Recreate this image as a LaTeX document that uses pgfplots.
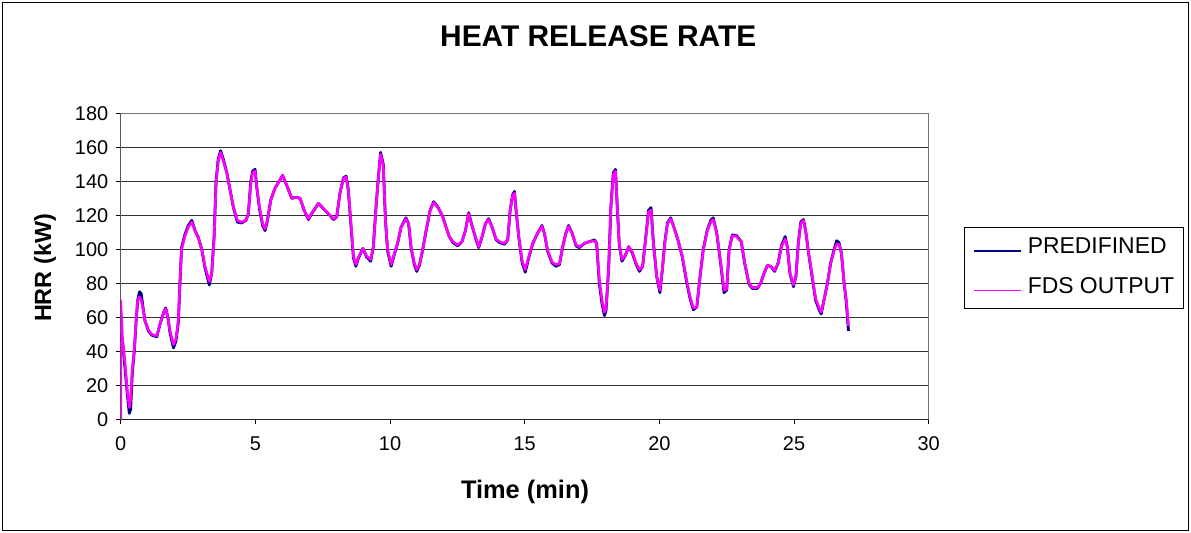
\documentclass[border=0pt]{standalone}
\usepackage{fontspec}
\setmainfont{Liberation Sans}
\usepackage{pgfplots}
\pgfplotsset{compat=1.18}
\definecolor{navyc}{HTML}{000080}
\definecolor{magc}{HTML}{FF00FF}
\begin{document}
\begin{tikzpicture}
\useasboundingbox (0,0) rectangle (1191bp,533bp);
\draw[line width=1bp] (2.5bp,2.5bp) rectangle (1188.5bp,530.5bp);
\begin{axis}[
  at={(120.7bp,113.7bp)}, anchor=south west,
  scale only axis, width=808bp, height=306bp,
  xmin=0, xmax=30, ymin=0, ymax=180,
  xtick={0,5,...,30}, ytick={0,20,...,180},
  tick align=outside, major tick length=5bp,
  tick style={black, line width=1bp},
  xtick pos=bottom, ytick pos=left,
  ymajorgrids, grid style={black!80, line width=0.9bp},
  axis line style={black!55, line width=1bp},
  /pgf/number format/assume math mode=true,
  ticklabel style={font=\fontsize{20}{24}\selectfont},
  xticklabel style={yshift=-9bp},
  yticklabel style={xshift=-4bp},
  title={HEAT RELEASE RATE},
  title style={font=\bfseries\fontsize{30}{34}\selectfont, at={(axis description cs:0.591,1.232)}, anchor=center},
  xlabel={Time (min)},
  xlabel style={font=\bfseries\fontsize{25.5}{29}\selectfont, at={(axis description cs:0.5004,-0.2366)}, anchor=center},
  ylabel={HRR (kW)},
  ylabel style={font=\bfseries\fontsize{23.5}{27}\selectfont, at={(axis description cs:-0.0937,0.4944)}, anchor=center, rotate=0},
  legend cell align=left,
  legend image code/.code={\draw[#1, line width=1.3bp] (0bp,-3bp) -- (47bp,-3bp);},
  legend style={at={(axis description cs:1.0437,0.6284)}, anchor=north west,
    draw=black, line width=1bp, fill=white,
    font=\fontsize{23}{27}\selectfont,
    inner xsep=9bp, inner ysep=10bp, row sep=19bp, column sep=6bp,
    nodes={inner sep=0bp, text height=15.8bp, text depth=5bp}},
]
\addplot[navyc, line width=2.8bp, line join=round] coordinates {
(0,50)(0.07,45)(0.16,30)(0.25,14)(0.32,3.5)(0.37,6)(0.43,27)(0.51,41)(0.57,57)(0.63,70)(0.7,75)(0.76,74)(0.82,67)(0.9,58)
(1.03,52)(1.15,49.5)(1.34,48.5)(1.46,56)(1.6,63)(1.67,65.5)(1.75,60)(1.83,51)(1.96,42)(2.05,46)(2.14,57)(2.2,80)(2.26,101)
(2.39,109)(2.51,114)(2.64,117)(2.76,111)(2.88,107)(3.01,100)(3.13,89)(3.29,79)(3.38,86)(3.47,108)(3.54,140)(3.62,153)
(3.71,158)(3.81,153)(3.94,145)(4.06,135)(4.18,125)(4.33,116)(4.49,115.5)(4.65,117)(4.74,121)(4.83,140)(4.9,146)(4.99,147)
(5.05,137)(5.15,124)(5.27,114)(5.36,111)(5.45,117)(5.57,129)(5.73,136)(5.92,141)(6.01,143.5)(6.1,140)(6.23,135)(6.35,130)
(6.51,130.5)(6.66,130)(6.81,123)(6.97,117.5)(7.09,121)(7.22,124)(7.34,127)(7.52,124)(7.71,121)(7.9,117.5)(8.02,119)
(8.14,133)(8.27,142)(8.37,143)(8.45,135)(8.54,116)(8.64,95)(8.73,90)(8.82,94.5)(8.99,100.5)(9.13,95.5)(9.28,93)(9.38,101.5)
(9.48,125)(9.57,143)(9.65,157)(9.75,150)(9.83,117)(9.91,99)(10.04,90)(10.16,97)(10.28,103.5)(10.41,113)(10.59,118.5)
(10.69,115)(10.78,101)(10.9,91)(10.99,87)(11.09,90.5)(11.21,99.5)(11.34,111)(11.49,123)(11.62,128)(11.77,125)(11.96,119)
(12.08,113)(12.2,107.5)(12.33,104)(12.51,102)(12.67,104.5)(12.8,111)(12.92,121.5)(13.04,114)(13.17,107)(13.29,101)
(13.42,107.5)(13.54,115)(13.66,118)(13.79,113)(13.94,105.5)(14.06,104)(14.25,103)(14.37,105.5)(14.46,123)(14.55,132)
(14.62,134)(14.68,123)(14.78,107)(14.9,92.5)(15.02,86.5)(15.15,95)(15.3,103.5)(15.48,109.5)(15.64,114)(15.73,109.5)
(15.85,99)(16.01,92)(16.16,90)(16.29,91)(16.41,101.5)(16.53,109.5)(16.63,114)(16.76,109.5)(16.91,102)(17.03,101)
(17.22,103.5)(17.4,104.5)(17.59,105.5)(17.67,103.5)(17.77,80)(17.87,68)(17.96,61)(18.02,64)(18.12,90)(18.2,125)
(18.29,145)(18.37,147)(18.43,127)(18.51,103)(18.61,93)(18.74,96.5)(18.86,101.5)(18.99,98)(19.13,91.5)(19.26,87)(19.38,90)
(19.5,108)(19.6,123)(19.69,124.5)(19.78,103.5)(19.9,84)(20.02,74.5)(20.11,88)(20.2,104)(20.3,115.5)(20.42,118.5)
(20.54,113)(20.69,105.5)(20.85,95.5)(21.01,81)(21.14,71)(21.26,64.5)(21.39,66)(21.51,84)(21.63,100)(21.78,111.5)
(21.91,117)(22.0,118.5)(22.13,109.5)(22.28,91)(22.4,74.5)(22.5,76)(22.59,100)(22.71,108.5)(22.87,108)(23.04,104.5)
(23.17,91.5)(23.33,79.5)(23.45,77)(23.64,77)(23.76,80)(23.89,86)(24.01,90.5)(24.13,90)(24.28,87)(24.41,92)(24.53,102)
(24.67,107.5)(24.75,101.5)(24.85,85.5)(24.98,78)(25.07,84)(25.16,104)(25.25,116)(25.35,117.5)(25.43,111)(25.56,95.5)
(25.68,83)(25.8,70)(25.93,64.5)(26.01,62)(26.11,70)(26.24,80)(26.36,92)(26.49,100)(26.58,105)(26.67,104)(26.76,97.5)
(26.86,80)(26.94,69)(27.02,52)
};
\addlegendentry{PREDIFINED}
\addplot[magc, line width=2.6bp, line join=round] coordinates {
(0,0)(0,70)(0.07,47)(0.16,33)(0.25,16)(0.32,7)(0.37,12)(0.43,29)(0.51,42)(0.57,58)(0.63,70)(0.7,72)(0.76,70)(0.82,66)(0.9,58)
(1.03,52.5)(1.15,50)(1.34,49)(1.46,56)(1.6,63)(1.67,65)(1.75,60)(1.83,52)(1.96,44)(2.05,47)(2.14,58)(2.2,80)(2.26,100)
(2.39,108)(2.51,113)(2.64,116)(2.76,111)(2.88,107)(3.01,100)(3.13,90)(3.29,81)(3.38,86)(3.47,107)(3.54,139)(3.62,152)
(3.71,157)(3.81,152)(3.94,145)(4.06,135)(4.18,125)(4.33,117)(4.49,116)(4.65,117)(4.74,121)(4.83,139)(4.9,145)(4.99,146)
(5.05,137)(5.15,125)(5.27,115)(5.36,112)(5.45,117)(5.57,129)(5.73,136)(5.92,141)(6.01,143.5)(6.1,140)(6.23,135)(6.35,130)
(6.51,130.5)(6.66,130)(6.81,123)(6.97,118)(7.09,121)(7.22,124)(7.34,127)(7.52,124)(7.71,121)(7.9,118)(8.02,119)
(8.14,133)(8.27,141.5)(8.37,142.5)(8.45,135)(8.54,117)(8.64,96)(8.73,91)(8.82,95)(8.99,100.5)(9.13,96)(9.28,94)(9.38,101.5)
(9.48,125)(9.57,142.5)(9.65,156)(9.75,149)(9.83,117)(9.91,100)(10.04,91)(10.16,97.5)(10.28,103.5)(10.41,113)(10.59,118)
(10.69,115)(10.78,101.5)(10.9,92)(10.99,88)(11.09,91)(11.21,99.5)(11.34,111)(11.49,123)(11.62,127.5)(11.77,125)(11.96,119)
(12.08,113)(12.2,107.5)(12.33,104.5)(12.51,102.5)(12.67,104.5)(12.8,111)(12.92,121)(13.04,114)(13.17,107.5)(13.29,101.5)
(13.42,107.5)(13.54,115)(13.66,117.5)(13.79,113)(13.94,106)(14.06,104.5)(14.25,103.5)(14.37,105.5)(14.46,123)(14.55,131.5)
(14.62,133)(14.68,123)(14.78,107.5)(14.9,93.5)(15.02,88)(15.15,95.5)(15.3,103.5)(15.48,109.5)(15.64,113.5)(15.73,109.5)
(15.85,99.5)(16.01,92.5)(16.16,91)(16.29,91.5)(16.41,101.5)(16.53,109.5)(16.63,113.5)(16.76,109.5)(16.91,102.5)(17.03,101.5)
(17.22,103.5)(17.4,104.5)(17.59,105)(17.67,103.5)(17.77,82)(17.87,70)(17.96,63)(18.02,65)(18.12,90)(18.2,125)
(18.29,144)(18.37,146)(18.43,127)(18.51,103.5)(18.61,94)(18.74,96.5)(18.86,101.5)(18.99,98.5)(19.13,92)(19.26,88)(19.38,90)
(19.5,107.5)(19.6,122)(19.69,123)(19.78,103.5)(19.9,84)(20.02,76)(20.11,88)(20.2,103.5)(20.3,115)(20.42,118)
(20.54,113)(20.69,105.5)(20.85,96)(21.01,82)(21.14,72)(21.26,65.5)(21.39,66)(21.51,84)(21.63,99.5)(21.78,111)
(21.91,116)(22.0,117.5)(22.13,109.5)(22.28,92)(22.4,76)(22.5,76.5)(22.59,99.5)(22.71,108)(22.87,107.5)(23.04,104.5)
(23.17,92)(23.33,80)(23.45,77.5)(23.64,77.5)(23.76,80)(23.89,86)(24.01,90.5)(24.13,90)(24.28,87.5)(24.41,92)(24.53,101.5)
(24.67,106)(24.75,101.5)(24.85,86)(24.98,79)(25.07,84)(25.16,103.5)(25.25,115)(25.35,117)(25.43,111)(25.56,96)
(25.68,84)(25.8,71)(25.93,65.5)(26.01,63)(26.11,70)(26.24,80)(26.36,92)(26.49,99.5)(26.58,103)(26.67,103)(26.76,97.5)
(26.86,80)(26.94,70)(27.02,55)
};
\addlegendentry{FDS OUTPUT}
\draw[black!85, line width=1.3bp] (rel axis cs:0,1) -- (rel axis cs:0,0) -- (rel axis cs:1,0);
\end{axis}
\end{tikzpicture}
\end{document}
